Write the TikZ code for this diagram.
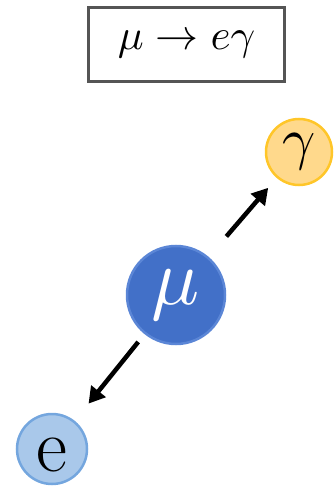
\documentclass[tikz,border=0pt]{standalone}
\usetikzlibrary{arrows.meta}
\definecolor{gamfill}{HTML}{FFD98C}
\definecolor{gamedge}{HTML}{FFC629}
\definecolor{mufill}{HTML}{4270C8}
\definecolor{muedge}{HTML}{5B86D6}
\definecolor{efill}{HTML}{A9C8EA}
\definecolor{eedge}{HTML}{74A6DE}
\definecolor{boxedge}{HTML}{555555}
\tikzset{
  particle/.style={circle, inner sep=0pt, line width=2.5pt},
  emission/.style={line width=4.5pt, -{Triangle[length=16pt,width=18pt]}},
}
\begin{document}
\begin{tikzpicture}[x=1pt,y=1pt]
  \useasboundingbox (0,0) rectangle (334,-486);
  % decay label
  \node[draw=boxedge, line width=3pt, minimum width=196pt, minimum height=74pt, inner sep=0pt]
    (title) at (186.5,-44.5) {\scalebox{4.3}{$\mu\rightarrow e\gamma$}};
  % particles
  \node[particle, draw=gamedge, fill=gamfill, minimum size=66pt] (gam) at (299,-152)
    {\scalebox{5.8}{$\gamma$}};
  \node[particle, draw=muedge, fill=mufill, minimum size=98pt] (mu) at (176,-295)
    {\color{white}\scalebox{8}{$\mu$}};
  \node[particle, draw=eedge, fill=efill, minimum size=70pt] (el) at (52,-449) {};
  \node (elabel) at ([yshift=-6pt]el.center) {\fontsize{76}{76}\selectfont e};
  % decay products
  \draw[emission, shorten <=27pt, shorten >=13pt] (mu) -- (gam);
  \draw[emission, shorten <=10pt, shorten >=22pt] (mu) -- (el);
\end{tikzpicture}
\end{document}
